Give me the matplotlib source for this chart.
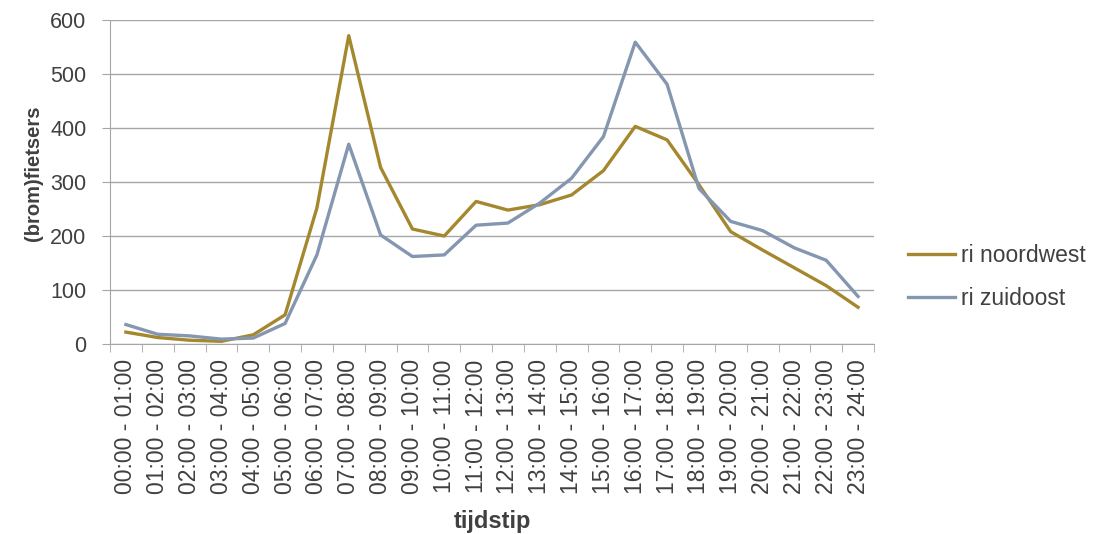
import numpy as np
import matplotlib.pyplot as plt
from matplotlib.ticker import FixedLocator

plt.rcParams['font.family'] = ['Liberation Sans', 'DejaVu Sans']

uren = ["%02d:00 - %02d:00" % (h, h + 1) for h in range(24)]
noordwest = [22, 12, 7, 5, 17, 54, 252, 571, 327, 213, 200, 264,
             248, 258, 276, 321, 403, 378, 295, 208, 174, 141, 108, 68]
zuidoost = [36, 18, 15, 9, 11, 38, 165, 370, 202, 162, 165, 220,
            224, 261, 307, 384, 559, 481, 288, 227, 210, 178, 155, 88]

tekst = '#404040'
fig = plt.figure(figsize=(11.01, 5.34), dpi=100)
ax = fig.add_axes([110 / 1101, 1 - 344 / 534, 764 / 1101, 324 / 534])

x = np.arange(len(uren))
ax.plot(x, noordwest, color='#A5882E', lw=2.4, label='ri noordwest')
ax.plot(x, zuidoost, color='#8596B1', lw=2.4, label='ri zuidoost')

ax.set_xlim(-0.5, len(uren) - 0.5)
ax.set_ylim(0, 600)
ax.set_yticks(range(0, 601, 100))
ax.yaxis.grid(True, color='#A6A6A6', lw=1)
ax.set_axisbelow(True)

ax.set_xticks(x)
ax.set_xticklabels(uren, rotation=90, fontsize=16.5, color=tekst)
ax.xaxis.set_minor_locator(FixedLocator(np.arange(-0.5, len(uren), 1)))
ax.tick_params(axis='x', which='major', length=0, pad=11)
ax.tick_params(axis='x', which='minor', length=6, color='#A6A6A6', direction='out')
ax.tick_params(axis='y', length=6, color='#A6A6A6', labelsize=15.5, labelcolor=tekst, pad=11)

for s in ['top', 'right']:
    ax.spines[s].set_visible(False)
for s in ['left', 'bottom']:
    ax.spines[s].set_color('#A6A6A6')

ax.set_ylabel('(brom)fietsers', fontsize=14.5, fontweight='bold', color=tekst)
ax.yaxis.set_label_coords(-0.088, 0.528)
ax.set_xlabel('tijdstip', fontsize=17, fontweight='bold', color=tekst, labelpad=11)

ax.legend(loc='center left', bbox_to_anchor=(908 / 1101, 1 - 277 / 534),
          bbox_transform=fig.transFigure, frameon=False, borderpad=0, borderaxespad=0,
          fontsize=16.5, labelcolor=tekst, handlelength=2.05, handletextpad=0.27,
          labelspacing=0.85)

fig.savefig('out.png', dpi=100)
